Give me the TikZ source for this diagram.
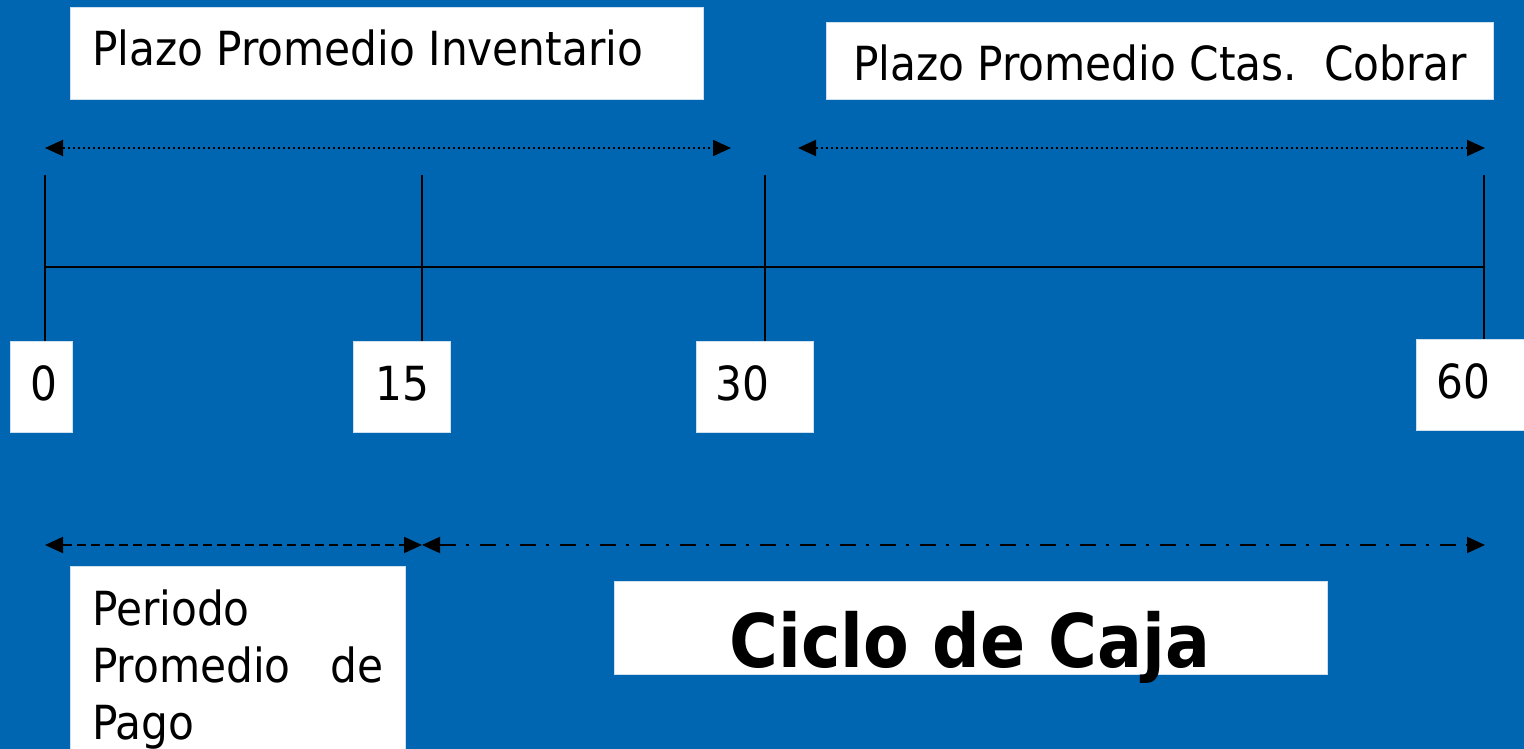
\documentclass[tikz,border=0pt]{standalone}
\usepackage{fontspec}
\setmainfont{DejaVu Sans Condensed}
\usetikzlibrary{arrows.meta}
\definecolor{bgblue}{RGB}{0,102,178}
\tikzset{
  wbox/.style={fill=white, draw=white!80!bgblue, line width=1pt, inner sep=0pt, anchor=north west},
  lbl/.style={inner sep=0pt, anchor=base west, font=\fontsize{47}{57}\selectfont},
  tick/.style={line width=2pt, black},
  axis/.style={line width=2pt, black},
  tip/.style={{Triangle[length=18pt,width=16pt]}-{Triangle[length=18pt,width=16pt]}, line width=2pt, black},
  dotline/.style={tip, dash pattern=on 2pt off 3pt},
  dashline/.style={tip, dash pattern=on 9pt off 5pt},
  dashdotline/.style={tip, dash pattern=on 16pt off 10pt on 3pt off 11pt},
}
\begin{document}
\begin{tikzpicture}[x=1pt,y=-1pt]
\fill[bgblue] (0,0) rectangle (1524,749);
\useasboundingbox (0,0) rectangle (1524,749);

% top boxes
\node[wbox, minimum width=633pt, minimum height=92pt] (b1) at (70,7) {};
\node[lbl] (t1) at (92,66) {Plazo Promedio Inventario};
\node[wbox, minimum width=667pt, minimum height=77pt] (b2) at (826,22) {};
\node[lbl] (t2) at (853,81) {Plazo Promedio Ctas.\ \ Cobrar};

% arrow end points
\coordinate (a1l) at (45,148);
\coordinate (a1r) at (731,148);
\coordinate (a2l) at (798,148);
\coordinate (a2r) at (1485,148);
\draw[dotline] (a1l) -- (a1r);
\draw[dotline] (a2l) -- (a2r);

% ticks
\coordinate (k0t) at (45,175);
\coordinate (k15t) at (422,175);
\coordinate (k30t) at (765,175);
\coordinate (k60t) at (1484,175);

% number boxes
\node[wbox, minimum width=62pt, minimum height=91pt] (n0) at (10,341) {};
\node[lbl] (n0t) at (30,400) {0};
\node[wbox, minimum width=97pt, minimum height=91pt] (n15) at (353,341) {};
\node[lbl] (n15t) at (375,400) {15};
\node[wbox, minimum width=117pt, minimum height=91pt] (n30) at (696,341) {};
\node[lbl] (n30t) at (715,400) {30};
\node[wbox, minimum width=110pt, minimum height=91pt] (n60) at (1416,339) {};
\node[lbl] (n60t) at (1436,398) {60};

\draw[tick] (k0t) -- (k0t |- n0.north);
\draw[tick] (k15t) -- (k15t |- n15.north);
\draw[tick] (k30t) -- (k30t |- n30.north);
\draw[tick] (k60t) -- (k60t |- n60.north);

\coordinate (h0) at (45,267);
\coordinate (h60) at (1484,267);
\draw[axis] (h0) -- (h60);

% bottom arrows
\coordinate (c0) at (45,545);
\coordinate (c15) at (422,545);
\coordinate (c60) at (1485,545);
\draw[dashline] (c0) -- (c15);
\draw[dashdotline] (c15) -- (c60);

% periodo box
\node[wbox, minimum width=335pt, minimum height=190pt] (pb) at (70,566) {};
\node[lbl] (p1) at (92,625) {Periodo};
\node[lbl] (p2) at (92,682) {\makebox[291pt][s]{Promedio\hfill de}};
\node[lbl] (p3) at (92,739) {Pago};

% ciclo box
\node[wbox, minimum width=713pt, minimum height=93pt] (cb) at (614,581) {};
\node[inner sep=0pt, anchor=base, font=\fontsize{74}{88}\selectfont\bfseries] (ct) at (970,667) {Ciclo de Caja};
\end{tikzpicture}
\end{document}
